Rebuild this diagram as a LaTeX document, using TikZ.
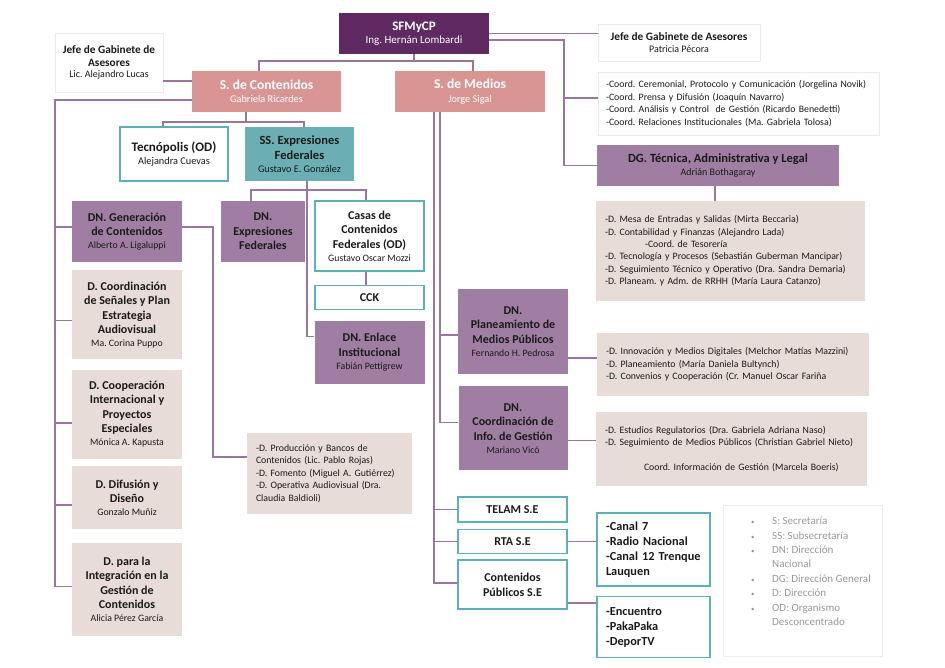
\documentclass[tikz,border=0pt]{standalone}
\usepackage{fontspec}
\setmainfont{Carlito}
\usetikzlibrary{calc,positioning}
\definecolor{sfmviolet}{HTML}{5F2A62}
\definecolor{secrose}{HTML}{D99594}
\definecolor{dnlila}{HTML}{A07EA3}
\definecolor{dbeige}{HTML}{E7DCD8}
\definecolor{ssteal}{HTML}{6BAFB4}
\definecolor{odteal}{HTML}{5CB1B6}
\definecolor{linklila}{HTML}{9A769E}
\definecolor{inktext}{HTML}{1A1A1A}
\tikzset{
     unitbox/.style={rectangle, inner sep=0pt, align=center, text=inktext,
                     font=\fontsize{12}{14.5}\selectfont\bfseries},
     headbox/.style={unitbox, fill=sfmviolet, text=white, font=\fontsize{13}{15}\selectfont\bfseries},
      secbox/.style={unitbox, fill=secrose, text=white, font=\fontsize{13.5}{15}\selectfont\bfseries},
       dnbox/.style={unitbox, fill=dnlila},
        dbox/.style={unitbox, fill=dbeige},
       odbox/.style={unitbox, fill=white, draw=odteal, line width=1.6pt},
       ssbox/.style={unitbox, fill=ssteal},
      advbox/.style={unitbox, fill=white, draw=black!8, font=\fontsize{11.3}{13}\selectfont\bfseries},
    listtext/.style={rectangle, inner xsep=9pt, inner ysep=0pt, align=left, text=inktext,
                     font=\fontsize{9.8}{12.4}\selectfont},
   beigelist/.style={listtext, fill=dbeige},
   whitelist/.style={listtext, fill=white, draw=black!8},
     medlist/.style={listtext, fill=white, draw=odteal, line width=1.6pt,
                     font=\fontsize{12.3}{15}\selectfont\bfseries},
        link/.style={draw=linklila, line width=1.6pt},
    }
\newcommand{\titular}[2][9.8]{\\[-1.5pt]{\fontsize{#1}{12}\selectfont\mdseries #2}}

\begin{document}
\frenchspacing
\begin{tikzpicture}[x=1pt, y=-1pt]
\useasboundingbox (0,0) rectangle (945,668);

% secretaria y asesores
\node [headbox, minimum width=150pt, minimum height=41pt] (sfm) at (414,33.5) {SFMyCP\titular[11]{Ing. Hernán Lombardi}};
\node [advbox, minimum width=108pt, minimum height=59pt] (jefeL) at (109,62.5) {Jefe de Gabinete de\\Asesores\titular[10]{Lic. Alejandro Lucas}};
\node [advbox, minimum width=162pt, minimum height=37pt] (jefeR) at (679,42.5) {Jefe de Gabinete de Asesores\titular[10]{Patricia Pécora}};
\node [secbox, minimum width=149pt, minimum height=41pt] (scont) at (266.5,91.5) {S. de Contenidos\titular[10.3]{Gabriela Ricardes}};
\node [secbox, minimum width=150pt, minimum height=41pt] (smed) at (470,91.5) {S. de Medios\titular[10.3]{Jorge Sigal}};
\node [whitelist, inner xsep=8pt, minimum height=63pt, text width=265pt] (coord) at (738.5,103.5)
      {-Coord. Ceremonial, Protocolo y Comunicación (Jorgelina Novik)\\
       -Coord. Prensa y Difusión (Joaquín Navarro)\\
       -Coord. Análisis y Control~ de Gestión (Ricardo Benedetti)\\
       -Coord. Relaciones Institucionales (Ma. Gabriela Tolosa)};
\node [dnbox, font=\fontsize{12.5}{15}\selectfont\bfseries, minimum width=242pt, minimum height=41pt] (dgt) at (718,165.5)
      {DG. Técnica, Administrativa y Legal\titular[10]{Adrián Bothagaray}};
\node [beigelist, minimum height=100pt, text width=251pt] (mesa) at (730.5,251)
      {-D. Mesa de Entradas y Salidas (Mirta Beccaria)\\
       -D. Contabilidad y Finanzas (Alejandro Lada)\\
       \hspace*{40pt}-Coord. de Tesorería\\
       -D. Tecnología y Procesos (Sebastián Guberman Mancipar)\\
       -D. Seguimiento Técnico y Operativo (Dra. Sandra Demaria)\\
       -D. Planeam. y Adm. de RRHH (María Laura Catanzo)};

% contenidos
\node [odbox, font=\fontsize{13}{15}\selectfont\bfseries, minimum width=108pt, minimum height=54pt] (tecno) at (174,154) {Tecnópolis (OD)\titular[10.3]{Alejandra Cuevas}};
\node [ssbox, font=\fontsize{12.5}{15}\selectfont\bfseries, minimum width=109pt, minimum height=54pt] (ssexp) at (299.5,154) {SS. Expresiones\\Federales\titular[10.2]{Gustavo E. González}};
\node [dnbox, minimum width=110pt, minimum height=61pt] (dngen) at (127,231.5) {DN. Generación\\de Contenidos\titular{Alberto A. Ligaluppi}};
\node [dbox, minimum width=110pt, minimum height=89pt, below=8pt of dngen] (dcoord) {D. Coordinación\\de Señales y Plan\\Estrategia\\Audiovisual\titular{Ma. Corina Puppo}};
\node [dbox, minimum width=110pt, minimum height=89pt, below=10pt of dcoord] (dcoop) {D. Cooperación\\Internacional y\\Proyectos\\Especiales\titular{Mónica A. Kapusta}};
\node [dbox, minimum width=110pt, minimum height=63pt, below=7pt of dcoop] (ddif) {D. Difusión y\\Diseño\titular{Gonzalo Muñiz}};
\node [dbox, minimum width=110pt, minimum height=93pt, below=13pt of ddif] (dint) {D. para la\\Integración en la\\Gestión de\\Contenidos\titular{Alicia Pérez García}};
\node [dnbox, minimum width=84pt, minimum height=61pt] (dnexp) at (263,231.5) {DN.\\Expresiones\\Federales};
\node [odbox, minimum width=109pt, minimum height=70pt] (casas) at (369.5,236) {Casas de\\Contenidos\\Federales (OD)\titular{Gustavo Oscar Mozzi}};
\node [odbox, minimum width=109pt, minimum height=24pt, below=13pt of casas] (cck) {CCK};
\node [dnbox, minimum width=110pt, minimum height=63pt, below=10pt of cck] (dnenl) {DN. Enlace\\Institucional\titular{Fabián Pettigrew}};
\node [beigelist, minimum height=81pt, text width=147pt] (dprod) at (329.5,473.5)
      {-D. Producción y Bancos de\\
       Contenidos (Lic. Pablo Rojas)\\
       -D. Fomento (Miguel A. Gutiérrez)\\
       -D. Operativa Audiovisual (Dra.\\
       Claudia Baldioli)};

% medios
\node [dnbox, minimum width=110pt, minimum height=85pt] (dnplan) at (513,331.5) {DN.\\Planeamiento de\\Medios Públicos\titular{Fernando H. Pedrosa}};
\node [dnbox, minimum width=109pt, minimum height=84pt, below=12pt of dnplan] (dncoord) {DN.\\Coordinación de\\Info. de Gestión\titular{Mariano Vicó}};
\node [beigelist, minimum height=63pt, text width=254pt] (innov) at (733,364.5)
      {-D. Innovación y Medios Digitales (Melchor Matías Mazzini)\\
       -D. Planeamiento (María Daniela Bultynch)\\
       -D. Convenios y Cooperación (Cr. Manuel Oscar Fariña};
\node [beigelist, minimum height=74pt, text width=253pt] (estud) at (731.5,449)
      {-D. Estudios Regulatorios (Dra. Gabriela Adriana Naso)\\
       -D. Seguimiento de Medios Públicos (Christian Gabriel Nieto)\\[12.4pt]
       \hspace*{39pt}Coord. Información de Gestión (Marcela Boeris)};
\node [odbox, minimum width=109pt, minimum height=25pt] (telam) at (512.5,509.5) {TELAM S.E};
\node [odbox, minimum width=109pt, minimum height=24pt, below=6pt of telam] (rta) {RTA S.E};
\node [odbox, minimum width=109pt, minimum height=49pt, below=5pt of rta] (cpub) {Contenidos\\Públicos S.E};
\node [medlist, minimum height=73pt, text width=95pt] (canal) at (653.5,549.5) {-Canal 7\\-Radio Nacional\\-Canal 12 Trenque\\Lauquen};
\node [medlist, minimum height=61pt, text width=95pt, below=9pt of canal] (encu) {-Encuentro\\-PakaPaka\\-DeporTV};

% siglas
\node [draw=black!7, fill=white, minimum width=159pt, minimum height=151pt, inner sep=0pt] (leyenda) at (802.5,580.5) {};
\node [anchor=north west, align=left, inner sep=0pt, text=black!40, font=\fontsize{11}{14.4}\selectfont] (siglas) at (751,517)
      {\makebox[21pt][l]{\scriptsize\textbullet}S: Secretaría\\
       \makebox[21pt][l]{\scriptsize\textbullet}SS: Subsecretaría\\
       \makebox[21pt][l]{\scriptsize\textbullet}DN: Dirección\\
       \hspace*{21pt}Nacional\\
       \makebox[21pt][l]{\scriptsize\textbullet}DG: Dirección General\\
       \makebox[21pt][l]{\scriptsize\textbullet}D: Dirección\\
       \makebox[21pt][l]{\scriptsize\textbullet}OD: Organismo\\
       \hspace*{21pt}Desconcentrado};

% conexiones de la secretaria
\coordinate (dgtbend) at ([xshift=-33pt]dgt.west);
\coordinate (coordin) at ([yshift=5.5pt]coord.west);
\draw [link] (sfm.south) -- ++(0,7) -| ([xshift=-7.5pt]scont.north);
\draw [link] (sfm.south) ++(0,7) -| ([xshift=3pt]smed.north);
\draw [link] (sfm.east) -- (sfm.east -| jefeR.west);
\draw [link] ([yshift=-6.5pt]sfm.east) -| (dgtbend) -- (dgt.west);
\draw [link] (dgtbend |- coordin) -- (coordin);
\draw [link] ([xshift=-3pt]dgt.south) -- ([xshift=-3pt]dgt.south |- mesa.north);

% conexiones de contenidos
\coordinate (spineL) at ([xshift=-17pt]dngen.west);
\coordinate (dintin) at ([yshift=2.5pt]dint.west);
\draw [link] ([yshift=10.5pt]scont.west) -- ([yshift=10.5pt]scont.west -| jefeL.east);
\draw [link] ([yshift=-8.5pt]scont.west) -| (spineL |- dintin) -- (dintin);
\foreach \d/\s in {dngen/4.5, dcoord/-5.5, dcoop/-8.5, ddif/-7.5}
    \draw [link] ([yshift=\s pt]\d.west) -- ([yshift=\s pt]\d.west -| spineL);
\draw [link] ([xshift=-20.5pt]scont.south) -- ++(0,10) -| ([xshift=-11pt]tecno.north);
\draw [link] ([xshift=-20.5pt]scont.south) ++(0,10) -| ([xshift=4.5pt]ssexp.north);
\draw [link] ([xshift=7.5pt]ssexp.south) -- ++(0,9) -| ([xshift=-12pt]dnexp.north);
\draw [link] ([xshift=7.5pt]ssexp.south) ++(0,9) -| ([xshift=-3.5pt]casas.north);
\draw [link] ([xshift=7.5pt]ssexp.south) |- ([yshift=15.5pt]dnenl.west);
\draw [link] ([xshift=-3.5pt]casas.south) -- ([xshift=-3.5pt]cck.north);
\draw [link] ([yshift=4.5pt]dngen.east) -- ++(31,0) |- ([yshift=16.5pt]dprod.west);

% conexiones de medios
\coordinate (medA) at ([xshift=-30pt]smed.south);
\coordinate (medB) at ([xshift=-36pt]smed.south);
\coordinate (dnplanin) at ([yshift=-3.5pt]dnplan.west);
\draw [link] (medA) |- ([yshift=6pt]dncoord.west);
\draw [link] (medA |- dnplanin) -- (dnplanin);
\draw [link] (medB) |- ([yshift=1.5pt]cpub.west);
\foreach \s in {telam, rta}
    \draw [link] (medB |- \s.west) -- (\s.west);
\draw [link] ([yshift=-26.5pt]dnplan.east) -- ([yshift=-26.5pt]dnplan.east -| innov.west);
\draw [link] ([yshift=-12pt]dncoord.east) -- ([yshift=-12pt]dncoord.east -| estud.west);
\draw [link] (rta.east) -- (rta.east -| canal.west);
\draw [link] ([yshift=-18.5pt]cpub.east) -- ([yshift=-18.5pt]cpub.east -| encu.west);
\end{tikzpicture}
\end{document}
